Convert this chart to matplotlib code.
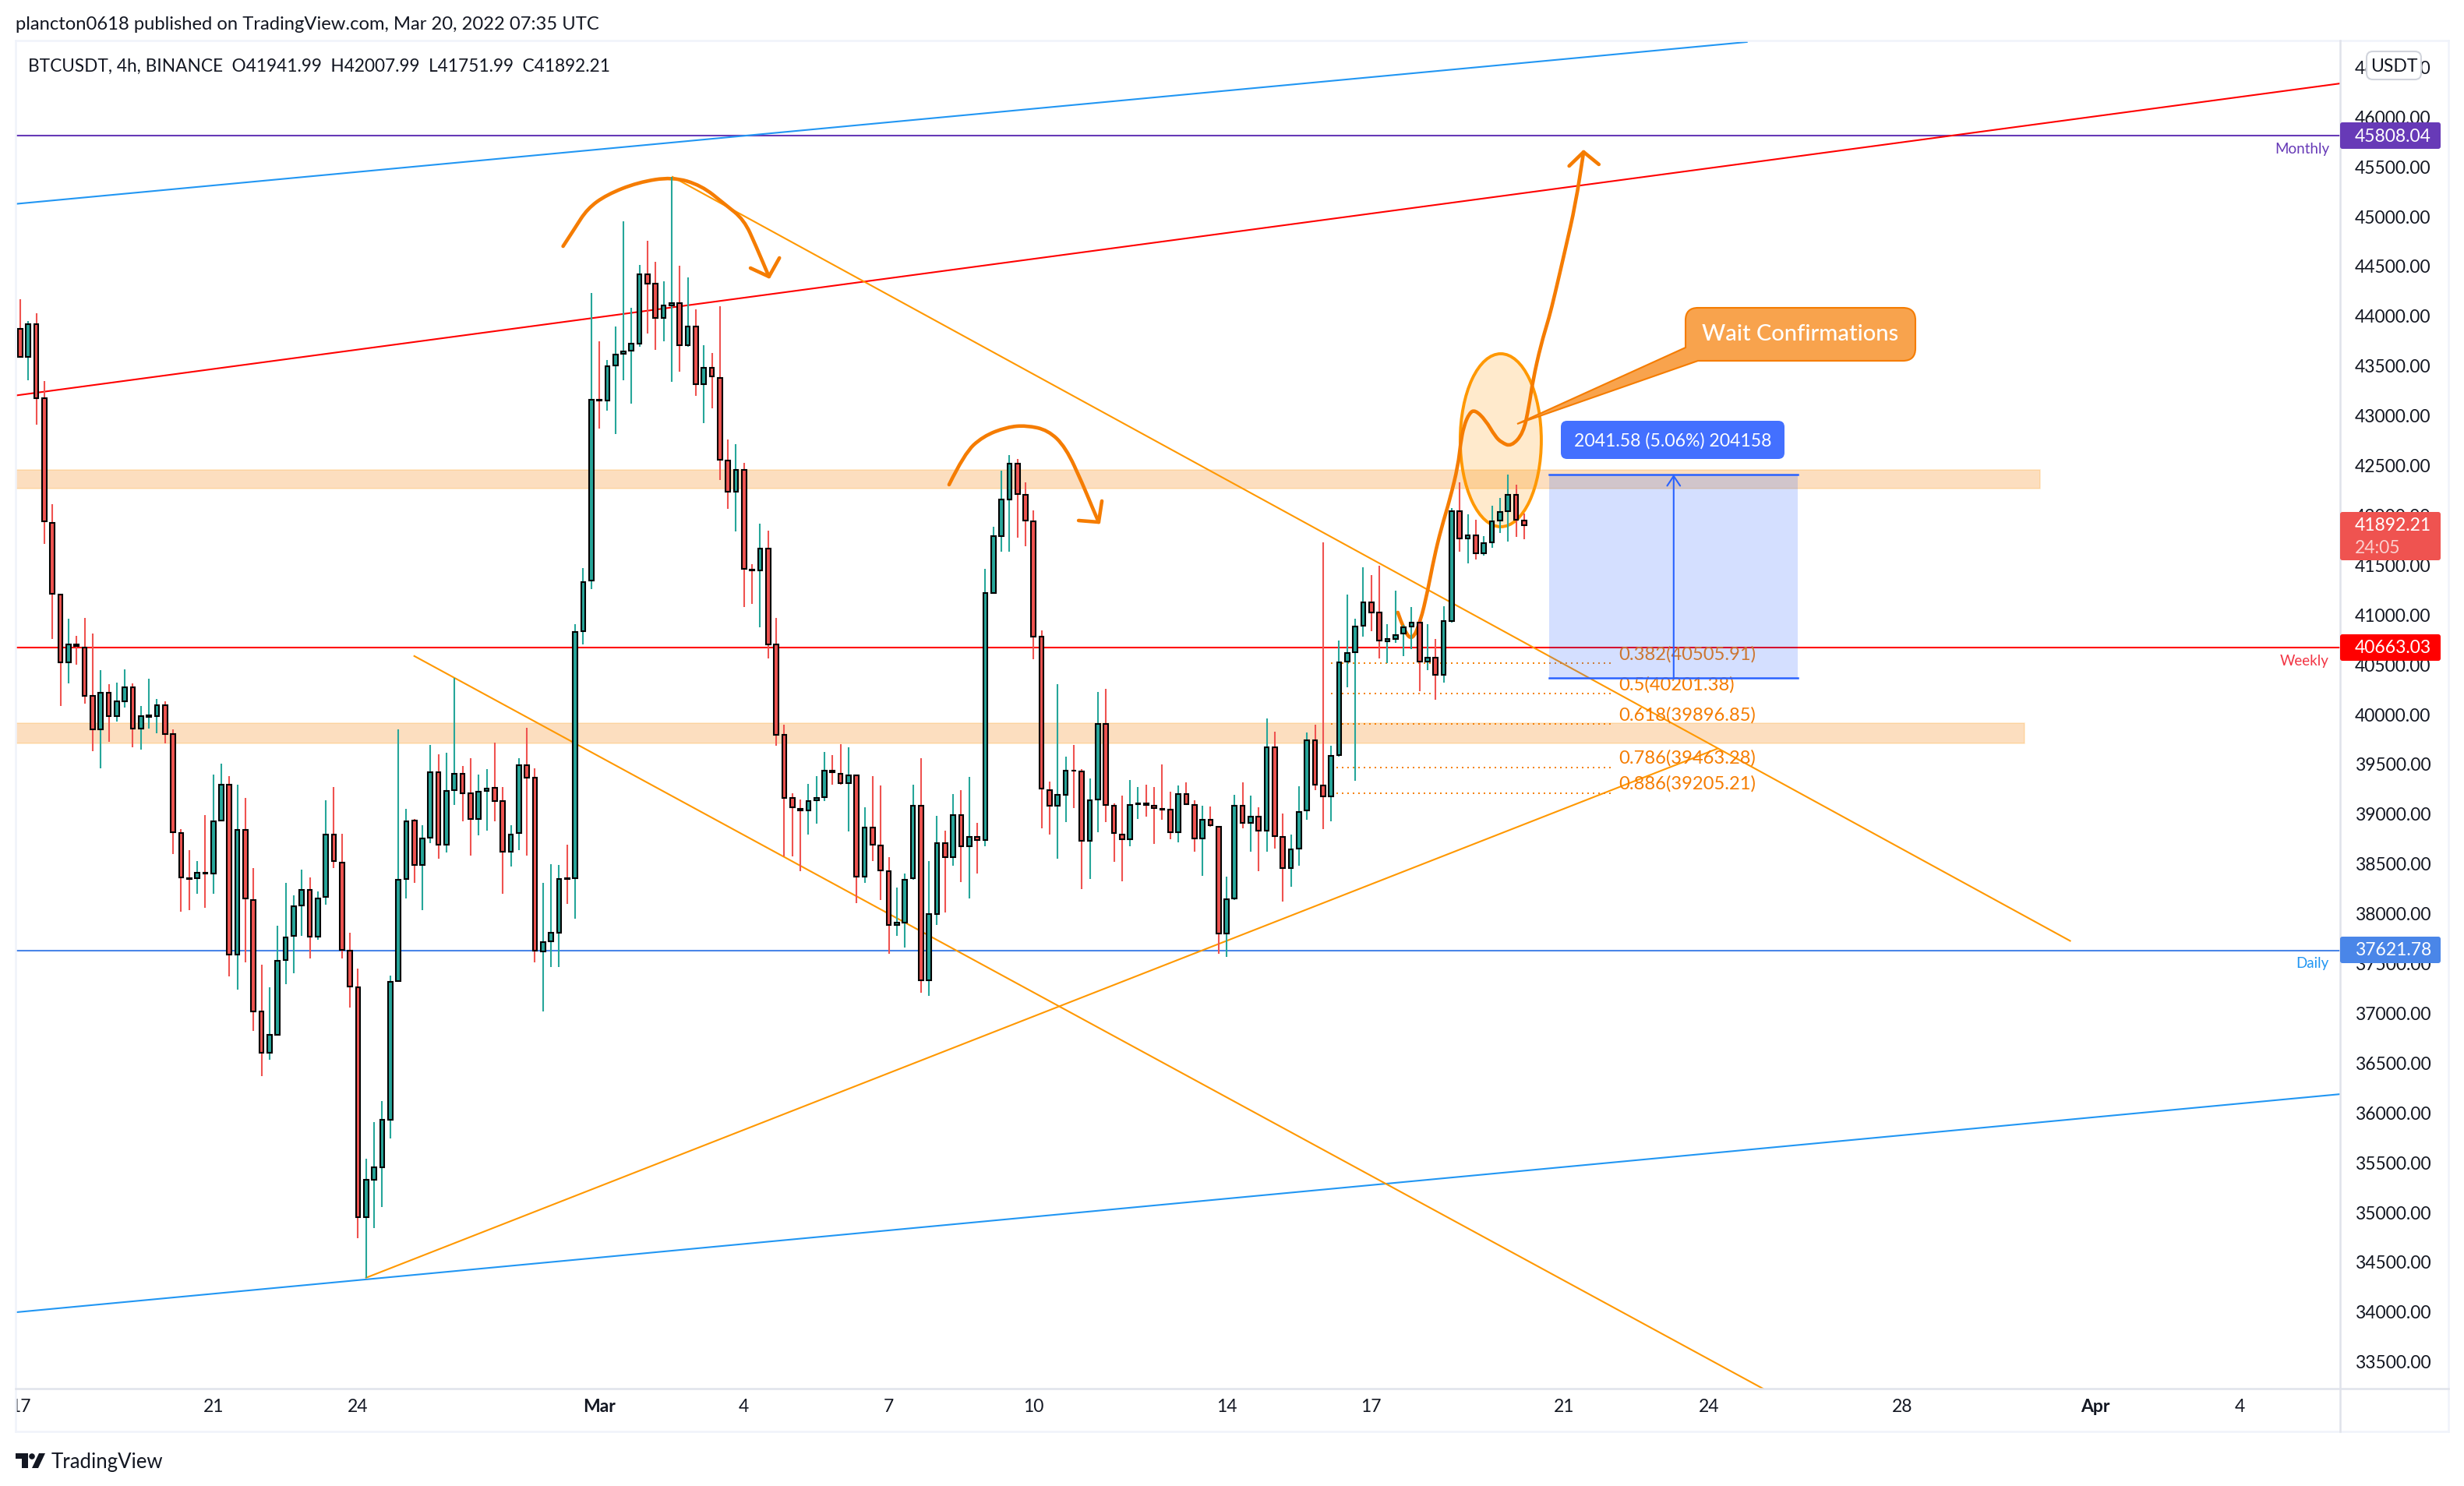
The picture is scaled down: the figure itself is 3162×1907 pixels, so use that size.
import matplotlib
matplotlib.use("Agg")
import matplotlib.pyplot as plt
from matplotlib.lines import Line2D
from matplotlib.patches import Circle, Ellipse, FancyBboxPatch, PathPatch, Polygon, Rectangle
from matplotlib.path import Path
from matplotlib.transforms import Bbox, IdentityTransform

W, H = 3162, 1908

# candles (one per 4h, index 0 = Feb 17 00:00)
opens = [43869, 43585, 43914, 43166, 41920, 41196, 40518, 40693, 40668, 40179, 39840, 40214, 39980, 40124, 40264, 39850,
         39970, 39975, 40084, 39795, 38803, 38349, 38349, 38404, 38394, 38927, 39291, 37586, 38833, 38129, 37013, 36599,
         36779, 37531, 37770, 38075, 38229, 37760, 38159, 38788, 38509, 37621, 37256, 34949, 35322, 35447, 35924, 37317,
         38339, 38927, 38479, 38753, 39416, 38683, 39232, 39396, 39202, 38942, 39222, 39257, 39122, 38618, 38803, 39481,
         39356, 37611, 37716, 37805, 38349, 38349, 40832, 41336, 43155, 43149, 43500, 43615, 43647, 43720, 44417, 44322,
         43977, 44103, 44123, 43705, 43893, 43312, 43474, 43375, 42547, 42233, 42453, 41447, 41442, 41662, 40693, 39787,
         39154, 39044, 39028, 39133, 39164, 39426, 39400, 39306, 39384, 38363, 38860, 38677, 38420, 37876, 37907, 38347,
         39075, 37321, 37991, 38698, 38557, 38986, 38667, 38766, 38735, 41217, 41788, 42149, 42516, 42201, 41934, 40772,
         39237, 39080, 39185, 39431, 39421, 38724, 39143, 39897, 39080, 38788, 38739, 39091, 39102, 39080, 39046, 39035,
         38814, 39196, 39087, 38750, 38937, 38866, 37793, 38148, 39079, 38907, 38964, 38825, 39667, 38765, 38451, 38649,
         39027, 39738, 39282, 39169, 39588, 40527, 40621, 40887, 41118, 41014, 40729, 40752, 40804, 40879, 40916, 40527,
         40565, 40393, 40931, 42035, 41762, 41796, 41612, 41724, 41941, 42035, 42200, 41941.99]
highs = [44164, 43944, 44019, 43341, 42109, 41196, 40957, 40783, 40962, 40807, 40438, 40294, 40314, 40448, 40309, 40079,
         40354, 40149, 40129, 39845, 38843, 38628, 38518, 38987, 39391, 39501, 39371, 39291, 39152, 38454, 37477, 37256,
         37875, 38304, 38179, 38439, 38354, 38214, 39132, 39262, 38793, 37805, 37438, 35531, 35898, 36109, 37373, 39845,
         39042, 38942, 38882, 39690, 39596, 39606, 40364, 39476, 39551, 39391, 39446, 39710, 39262, 38882, 39556, 39860,
         39451, 38304, 38494, 38484, 38683, 40902, 41466, 44224, 43741, 43553, 43888, 44946, 44076, 44506, 44747, 44537,
         44343, 45392, 44500, 44380, 44061, 43699, 43621, 44092, 42757, 42709, 42521, 41500, 41908, 41840, 40966, 39887,
         39206, 39143, 39295, 39374, 39620, 39588, 39698, 39667, 39389, 39064, 39374, 39284, 38557, 38258, 38400, 39290,
         39557, 38525, 38976, 38829, 39195, 39237, 39368, 38907, 41458, 41882, 42442, 42600, 42558, 42322, 42044, 40840,
         39316, 40295, 39572, 39688, 39442, 39352, 40222, 40247, 39102, 39177, 39338, 39263, 39289, 39263, 39491, 39218,
         39282, 39312, 39132, 39076, 39068, 38870, 38365, 39188, 39308, 39177, 39065, 39955, 39817, 39001, 38788, 39270,
         39813, 39888, 41721, 39678, 40733, 41197, 40954, 41470, 41395, 41489, 40898, 41238, 40890, 41070, 40946, 40898,
         40748, 41077, 42069, 42323, 42005, 41945, 41788, 42087, 42170, 42402, 42301, 42007.99]
lows = [43585, 43351, 42902, 41705, 40753, 40079, 40309, 40493, 40104, 39626, 39456, 39720, 39925, 40064, 39660, 39640,
        39855, 39805, 39705, 38588, 38010, 38030, 38189, 38055, 38189, 38927, 37361, 37227, 37506, 36813, 36359, 36523,
        36768, 37287, 37396, 37770, 37541, 37730, 38085, 38454, 37546, 37047, 34733, 34337, 34835, 35046, 35734, 37317,
        38149, 38299, 38025, 38703, 38548, 38608, 39082, 38917, 38578, 38783, 38827, 38922, 38194, 38469, 38628, 38573,
        37506, 37009, 37461, 37461, 38094, 37945, 40698, 41251, 42861, 43045, 42809, 43348, 43113, 43689, 43820, 43652,
        43741, 43333, 43437, 43684, 43191, 42919, 43066, 42348, 42060, 41830, 41076, 41107, 40871, 40557, 39677, 38567,
        38567, 38420, 38787, 38897, 39127, 39290, 39285, 38818, 38096, 38305, 38525, 38132, 37593, 37771, 37656, 38337,
        37200, 37169, 37881, 38007, 38473, 38310, 38148, 38400, 38672, 41217, 41631, 41631, 41772, 41683, 40547, 38850,
        38787, 38546, 38913, 39054, 38237, 38342, 38808, 38915, 38511, 38317, 38668, 38945, 38964, 38691, 38937, 38739,
        38713, 39087, 38616, 38376, 38863, 37591, 37561, 38133, 38851, 38619, 38421, 38616, 38646, 38114, 38264, 38474,
        38934, 39237, 38840, 38919, 39573, 40266, 39327, 40778, 40827, 40554, 40509, 40711, 40576, 40647, 40224, 40441,
        40142, 40310, 40913, 41631, 41508, 41549, 41586, 41665, 41814, 41728, 41777, 41751.99]
closes = [43585, 43914, 43171, 41930, 41206, 40518, 40693, 40678, 40184, 39840, 40214, 39980, 40124, 40264, 39850, 39980,
          39985, 40084, 39800, 38808, 38354, 38344, 38404, 38394, 38917, 39291, 37586, 38833, 38144, 37013, 36599, 36779,
          37521, 37755, 38064, 38229, 37760, 38144, 38788, 38518, 37626, 37262, 34949, 35322, 35447, 35924, 37308, 38334,
          38922, 38479, 38748, 39411, 38683, 39222, 39396, 39202, 38942, 39217, 39252, 39127, 38618, 38788, 39481, 39361,
          37621, 37706, 37800, 38344, 38339, 40822, 41326, 43155, 43149, 43490, 43610, 43642, 43715, 44417, 44322, 43977,
          44103, 44123, 43705, 43893, 43312, 43474, 43385, 42552, 42233, 42453, 41458, 41442, 41662, 40693, 39792, 39159,
          39059, 39028, 39127, 39159, 39431, 39410, 39306, 39384, 38363, 38860, 38682, 38426, 37876, 37902, 38337, 39075,
          37321, 37986, 38698, 38557, 38986, 38667, 38766, 38735, 41217, 41788, 42149, 42516, 42207, 41940, 40777, 39248,
          39075, 39185, 39431, 39426, 38724, 39133, 39897, 39087, 38803, 38739, 39087, 39102, 39087, 39053, 39038, 38814,
          39196, 39095, 38750, 38937, 38878, 37793, 38141, 39079, 38907, 38964, 38825, 39667, 38773, 38451, 38642, 39016,
          39738, 39289, 39169, 39581, 40520, 40613, 40879, 41118, 41017, 40733, 40748, 40793, 40872, 40916, 40527, 40565,
          40393, 40928, 42035, 41762, 41796, 41612, 41717, 41934, 42028, 42200, 41949, 41892.21]

price_ticks = list(range(33500, 47000, 500))
date_tick_pos = [0, 24, 42, 72, 90, 108, 126, 150, 168, 192, 210, 234, 258, 276]
date_tick_labels = ["17", "21", "24", "Mar", "4", "7", "10", "14", "17", "21", "24", "28", "Apr", "4"]

# support / resistance levels
monthly_level = 45808.04
weekly_level = 40663.03
daily_level = 37621.78
last_price = 41892.21
zone_upper = (42259, 42453)
zone_lower = (39705, 39910)
fib_ratios = ["0.382", "0.5", "0.618", "0.786", "0.886"]
fib_prices = [40505.91, 40201.38, 39896.85, 39463.28, 39205.21]

# trend lines as (candle index, price)
channel_top = [(-0.6, 45120), (214.7, 46746)]
channel_bottom = [(-0.6, 33990), (288.5, 36181)]
red_trend = [(-0.6, 43196), (288.5, 46330)]
fall_upper = [(81.1, 45392), (254.9, 37720)]
fall_lower = [(49.0, 40580), (216.7, 33224)]
rise_line = [(43.0, 34337), (211.0, 39649)]

# freehand strokes as (candle index, price)
stroke_one = [(67.5, 44695), (68.9, 44868), (70.5, 45071), (72.9, 45212), (76.8, 45337), (81.1, 45392), (84.7, 45306),
              (87.6, 45118), (90.0, 44962), (91.5, 44695), (93.1, 44390)]
head_one = [(90.8, 44476), (93.1, 44390), (94.4, 44578)]
stroke_two = [(115.5, 42301), (117.4, 42614), (119.7, 42786), (122.7, 42880), (125.1, 42896), (127.8, 42849),
              (130.0, 42677), (132.1, 42309), (133.3, 42074), (134.1, 41925)]
head_two = [(131.6, 41941), (134.1, 41925), (134.5, 42137)]
stroke_three = [(171.3, 41018), (172.1, 40830), (173.1, 40736), (174.1, 40924), (175.0, 41229), (175.8, 41565),
                (176.7, 41863), (177.8, 42160), (178.8, 42497), (179.1, 42716), (179.5, 42888), (180.2, 43021),
                (180.9, 43052), (182.2, 42950), (183.4, 42786), (184.2, 42724), (185.4, 42684), (186.9, 42817),
                (187.6, 43084), (188.1, 43350), (189.1, 43710), (190.1, 43976), (190.8, 44203), (192.1, 44656),
                (193.4, 45118), (194.4, 45642)]
head_three = [(192.6, 45501), (194.4, 45642), (196.3, 45517)]

plt.rcParams["font.family"] = ["Lato", "DejaVu Sans"]
TXT = "#131722"
UP = "#26a69a"
DOWN = "#ef5350"
ORANGE = "#ff9800"
STROKE = "#f57c00"
BLUE = "#2962ff"
FONT = 16.5

fig = plt.figure(figsize=(W / 100, H / 100), dpi=100, facecolor="white")
ax = fig.add_axes([20 / W, 1 - 1783 / H, (3003 - 20) / W, (1783 - 53) / H])
ax.set_xlim(-0.58, 288.47)
ax.set_ylim(33224, 46761)
ax.patch.set_alpha(0)
id_tr = IdentityTransform()


def xy(points):
    return [p[0] for p in points], [p[1] for p in points]


def smooth(points):
    # quadratic curve through the midpoints, so a hand stroke has no corners
    verts = [points[0]]
    codes = [Path.MOVETO]
    for a, b in zip(points[1:-1], points[2:]):
        verts += [a, ((a[0] + b[0]) / 2, (a[1] + b[1]) / 2)]
        codes += [Path.CURVE3, Path.CURVE3]
    verts.append(points[-1])
    codes.append(Path.LINETO)
    return Path(verts, codes)


def px_box(x0, y0, x1, y1, color, rounding=4, ec="none", lw=0, z=5):
    box = FancyBboxPatch((x0, H - y1), x1 - x0, y1 - y0, boxstyle=f"round,pad=0,rounding_size={rounding}",
                         fc=color, ec=ec, lw=lw, transform=id_tr, zorder=z)
    fig.add_artist(box)


def px_text(x, y, s, **kw):
    fig.text(x / W, 1 - y / H, s, **kw)


def px_line(x0, y0, x1, y1, color, lw=1.5):
    fig.add_artist(Line2D([x0, x1], [H - y0, H - y1], color=color, lw=lw, transform=id_tr, zorder=1))


# price and time axis
ax.yaxis.tick_right()
ax.set_yticks(price_ticks)
ax.set_yticklabels([f"{p:.2f}" for p in price_ticks], fontsize=FONT, color=TXT)
ax.tick_params(axis="y", length=0, pad=13.5)
ax.set_xticks(date_tick_pos)
ax.set_xticklabels(date_tick_labels, fontsize=FONT, color=TXT)
ax.tick_params(axis="x", length=0, pad=9)
for lab in ax.get_xticklabels():
    lab.set_clip_on(True)
    lab.set_clip_box(Bbox.from_extents(21, 0, W, H))
    if lab.get_text() in ("Mar", "Apr"):
        lab.set_fontweight("bold")
for name in ["top", "left", "right", "bottom"]:
    ax.spines[name].set_visible(False)

# frame
px_line(20, 53, 3142, 53, "#f0f3fa", 1.8)
px_line(20, 53, 20, 1838, "#f0f3fa", 1.8)
px_line(3142, 53, 3142, 1838, "#f0f3fa", 1.8)
px_line(20, 1838, 3142, 1838, "#f0f3fa", 1.8)
px_line(20, 1783, 3142, 1783, "#e0e3eb", 1.8)
px_line(3003, 53, 3003, 1838, "#e0e3eb", 1.8)

# zones
ax.add_patch(Rectangle((-0.58, zone_upper[0]), 251.2 - (-0.58), zone_upper[1] - zone_upper[0],
                       fc=(245 / 255, 124 / 255, 0, 0.25), ec=(1, 0.6, 0, 0.2), lw=1.2, zorder=1))
ax.add_patch(Rectangle((-0.58, zone_lower[0]), 249.2 - (-0.58), zone_lower[1] - zone_lower[0],
                       fc=(245 / 255, 124 / 255, 0, 0.25), ec=(1, 0.6, 0, 0.2), lw=1.2, zorder=1))

# levels and trend lines
ax.axhline(monthly_level, color="#673ab7", lw=1.5, zorder=2)
ax.axhline(weekly_level, color="#ff0000", lw=1.5, zorder=2)
ax.axhline(daily_level, color="#4a86e8", lw=1.5, zorder=2)
ax.plot(*xy(channel_top), color="#2196f3", lw=1.5, zorder=2)
ax.plot(*xy(channel_bottom), color="#2196f3", lw=1.5, zorder=2)
ax.plot(*xy(red_trend), color="#ff0000", lw=1.5, zorder=2)
ax.plot(*xy(fall_upper), color=ORANGE, lw=1.5, zorder=2)
ax.plot(*xy(fall_lower), color=ORANGE, lw=1.5, zorder=2)
ax.plot(*xy(rise_line), color=ORANGE, lw=1.5, zorder=2)

# fib retracement
for ratio, price in zip(fib_ratios, fib_prices):
    ax.plot([163, 198], [price, price], color=STROKE, lw=1.4, ls=(0, (1, 2.6)), zorder=2)
    ax.annotate(f"{ratio}({price:.2f})", (198.8, price), xytext=(0, 9.2), textcoords="offset points",
                ha="left", va="center", color=STROKE, fontsize=17.1, zorder=3)

# measure box
box_left, box_right = 190.1, 221.0
box_low, box_high = 40360.63, 42402.21
ax.add_patch(Rectangle((box_left, box_low), box_right - box_left, box_high - box_low,
                       fc=(41 / 255, 98 / 255, 1, 0.2), ec="none", zorder=4))
ax.plot([box_left, box_right], [box_high, box_high], color=BLUE, lw=1.8, zorder=4)
ax.plot([box_left, box_right], [box_low, box_low], color=BLUE, lw=1.8, zorder=4)
ax.annotate("", xy=(205.6, box_high), xytext=(205.6, box_low), zorder=4,
            arrowprops=dict(arrowstyle="->,head_length=0.45,head_width=0.3", color=BLUE, lw=1.5,
                            shrinkA=0, shrinkB=0, mutation_scale=20))

# ellipse and freehand marks
ax.add_patch(Ellipse((184.1, 42747), 10.08, 1737, fc=(1, 0.6, 0, 0.2), ec=ORANGE, lw=2.8, zorder=3))
for stroke in [stroke_one, stroke_two, stroke_three]:
    ax.add_patch(PathPatch(smooth(stroke), fill=False, ec=STROKE, lw=3.3, capstyle="round", joinstyle="round", zorder=3))
for head in [head_one, head_two, head_three]:
    ax.plot(*xy(head), color=STROKE, lw=3.3, solid_capstyle="round", solid_joinstyle="round", zorder=3)

# candles
x_pos = list(range(len(opens)))
colors = [UP if c >= o else DOWN for o, c in zip(opens, closes)]
ax.vlines(x_pos, lows, highs, colors=colors, lw=1.5, zorder=6)
ax.bar(x_pos, [abs(c - o) for o, c in zip(opens, closes)], bottom=[min(o, c) for o, c in zip(opens, closes)],
       width=0.55, color=colors, edgecolor="black", linewidth=1.5, zorder=7)

# callout, drawn in pixels on the page
codes = [Path.MOVETO, Path.LINETO, Path.LINETO, Path.CURVE3, Path.CURVE3, Path.LINETO, Path.CURVE3, Path.CURVE3,
         Path.LINETO, Path.CURVE3, Path.CURVE3, Path.LINETO, Path.CLOSEPOLY]
verts = [(1947, 545), (2163, 447), (2163, 412), (2163, 396), (2179, 396), (2442, 396), (2458, 396), (2458, 412),
         (2458, 448), (2458, 464), (2442, 464), (2179, 464), (1947, 545)]
verts = [(x, H - y) for x, y in verts]
fig.add_artist(PathPatch(Path(verts, codes), fc="#f8a34d", ec=STROKE, lw=1.5, transform=id_tr, zorder=5))
px_text(2310, 429, "Wait Confirmations", color="white", fontsize=21, fontweight="medium", ha="center", va="center", zorder=6)

px_box(2003, 541, 2290, 590, "#4370ff", rounding=8)
px_text(2147, 566, "2041.58 (5.06%) 204158", color="white", fontsize=16.6, ha="center", va="center", zorder=6)

# level labels on the price scale
for price, color, y0, y1 in [(monthly_level, "#673ab7", 158, 192), (weekly_level, "#ff0000", 815, 849),
                             (daily_level, "#4a86e8", 1203, 1237)]:
    px_box(3003, y0, 3132, y1, color, rounding=3)
    px_text(3022, (y0 + y1) / 2, f"{price:.2f}", color="white", fontsize=FONT, ha="left", va="center", zorder=6)
px_box(3003, 658, 3132, 720, DOWN, rounding=3)
px_text(3022, 675, f"{last_price:.2f}", color="white", fontsize=FONT, ha="left", va="center", zorder=6)
px_text(3022, 703, "24:05", color="#fbd0cf", fontsize=FONT, ha="left", va="center", zorder=6)

px_text(2989, 192, "Monthly", color="#673ab7", fontsize=13.5, ha="right", va="center")
px_text(2989, 849, "Weekly", color="#f23645", fontsize=13.5, ha="right", va="center")
px_text(2989, 1237, "Daily", color="#2196f3", fontsize=13.5, ha="right", va="center")

px_box(3037, 67, 3107, 103, "white", rounding=8, ec="#d1d4dc", lw=1.5)
px_text(3072, 85, "USDT", color=TXT, fontsize=FONT, ha="center", va="center", zorder=6)

# header and footer
px_text(20, 32, "plancton0618 published on TradingView.com, Mar 20, 2022 07:35 UTC", color=TXT, fontsize=17.1,
        ha="left", va="center")
px_text(36, 85, "BTCUSDT, 4h, BINANCE  O41941.99  H42007.99  L41751.99  C41892.21", color=TXT, fontsize=16.3,
        ha="left", va="center")
px_text(66, 1877, "TradingView", color=TXT, fontsize=18.5, ha="left", va="center")
fig.add_artist(Polygon([(20, H - 1866), (36, H - 1866), (36, H - 1885), (28, H - 1885), (28, H - 1873), (20, H - 1873)],
                       fc=TXT, ec="none", transform=id_tr))
fig.add_artist(Circle((41, H - 1870), 3.8, fc=TXT, ec="none", transform=id_tr))
fig.add_artist(Polygon([(50, H - 1866), (58, H - 1866), (49, H - 1885), (41, H - 1885)],
                       fc=TXT, ec="none", transform=id_tr))

fig.savefig("out.png", dpi=100)
